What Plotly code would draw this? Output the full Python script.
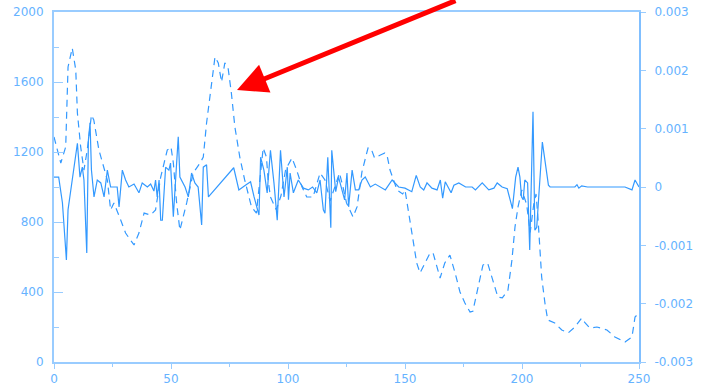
import plotly.graph_objects as go

# Solid series (right axis)
solid_x = [0, 0.5, 2, 3.6, 5.3, 6, 7.8, 10, 11.1, 12.1, 12.8, 14, 14.7, 15.4, 16, 17.1, 18.5, 20,
           21.4, 22.8, 24.2, 25.6, 27, 27.8, 29.2, 30.6, 32, 34.2, 36.3, 37.7, 39.9, 41.3, 42.7,
           43.4, 44.1, 44.9, 45.6, 46.3, 47.7, 49.1, 49.8, 51, 53.1, 53.8, 56, 57.4, 58.8, 60.2,
           61.6, 63.1, 63.8, 65.2, 66, 76.8, 79, 81.8, 84, 85.5, 87.6, 88.3, 89.7, 91.1, 92.5,
           94, 95.4, 96.8, 98.3, 99.7, 100.2, 100.9, 102.3, 104.4, 106.6, 108.7, 110.5, 112.3,
           113.7, 115.1, 115.8, 117, 117.7, 118.3, 118.7, 119.4, 120.4, 121.6, 123, 124.2, 125.2,
           125.9, 127.4, 128.8, 130.2, 131.6, 133, 135.2, 137.3, 139.5, 141.6, 144.5, 147.3, 150,
           152.9, 154.8, 156.5, 158, 159.4, 161.5, 163.7, 165.1, 166.1, 167.2, 168.7, 169.7,
           170.9, 173, 175.9, 178.7, 180.1, 183, 185.8, 188, 189.4, 191.5, 193.7, 195.9, 197.3,
           198.3, 199.1, 199.8, 200.5, 201.2, 202.4, 203.3, 203.8, 204.7, 205.5, 206.3, 208.7,
           209.8, 211.3, 212, 222.6, 223.5, 224.3, 225.5, 228, 244, 247, 248.3, 250]
solid_y = [0.00017, 0.00017, 0.00017, -0.00027, -0.00125, -0.00039, 0.00012, 0.00075, 0.00017,
           0.00034, 0.00012, -0.00113, 0.0008, 0.0011, 0.00029, -0.00017, 0.00012, 0.00007,
           -0.00017, 0.00029, 0.0, 0.0, 0.0, -0.00034, 0.00029, 0.00012, 0.0, 0.00005, -0.0001,
           0.00007, 0.0, 0.00005, -0.00007, 0.00012, -0.00017, 0.00012, -0.00057, -0.00057,
           0.00034, 0.00029, 0.00041, -0.00051, 0.00086, 0.00017, 0.0, -0.00017, 0.00024,
           0.00007, 0.0, -0.00065, 0.00034, 0.00038, -0.00017, 0.00033, -0.00005, 0.00003,
           0.00009, -0.00017, -0.00048, 0.00051, 0.00029, -0.0001, 0.00063, 0.00007, -0.00057,
           0.00063, -0.00017, 0.00034, -0.00022, 0.00024, -0.0001, 0.00012, -0.00002, -0.00005,
           0.0, -0.0001, 0.00012, -0.00039, -0.00045, 0.00051, -0.00022, -0.0007, 0.00063,
           0.00034, -0.00008, 0.00017, -0.00005, -0.00022, 0.00024, -0.00034, 0.00029, -0.00005,
           -0.00005, 0.00012, 0.00017, 0.0, 0.00005, 0.0, -0.00005, 0.00012, 0.0, -0.00002,
           -0.00008, 0.0002, 0.0, -0.00005, 0.00007, -0.00002, -0.00005, 0.00012, -0.00019,
           0.00009, -0.00002, -0.0001, 0.00003, 0.00007, 0.0, 0.0, -0.00005, 0.00007, -0.00005,
           -0.00002, 0.00007, 0.0, -0.00003, -0.00037, 0.00017, 0.00034, 0.00017, -0.00017,
           -0.00022, 0.00012, 0.00007, -0.00108, -0.00022, 0.00129, -0.00074, -0.00069, 0.00077,
           0.00046, 0.00003, 0.0, 0.0, 0.00004, -0.00002, 0.00002, 0.0, 0.0, -0.00005, 0.00012,
           0.0]

# Dashed series (left axis)
dash_x = [0, 1.5, 2.9, 5, 6, 7.8, 9.3, 10, 11.4, 12.8, 14.2, 16, 17, 19.2, 21.4, 22.8, 24.2,
          25.6, 28.5, 30.6, 32.5, 34.2, 36.3, 38.5, 41.3, 43.4, 45.6, 48.4, 50, 51, 52.4, 53.8,
          56.7, 59.5, 62.4, 63.8, 65.2, 67.4, 68.8, 70.2, 71.6, 73, 74.4, 75.8, 77.3, 79.4,
          81.5, 84.4, 86.5, 89.4, 90.8, 91.5, 92.5, 95, 97, 99, 101.7, 103.7, 106, 108, 110.7,
          113.7, 115.8, 118, 120, 122, 123.5, 125, 127.8, 129.5, 131.6, 134.2, 135.5, 137,
          139.5, 141.4, 142.3, 143.6, 146.6, 149, 150, 151.4, 153.5, 155, 156.4, 158.5, 160.7,
          162, 164.2, 165, 167, 169.2, 171.4, 173.5, 175.6, 177.8, 179, 181.2, 183.3, 185.3,
          187.6, 189.7, 191.6, 194, 195.7, 197, 198.3, 199.9, 202, 203.5, 205, 206, 206.8,
          207.7, 208.4, 209.8, 211, 214, 217, 219.7, 222.6, 225.5, 227, 229, 232, 236.3, 239.7,
          244, 247, 248.3, 250]
dash_y = [1286, 1200, 1137, 1229, 1686, 1794, 1669, 1423, 1229, 1097, 1211, 1411, 1383, 1211,
          1114, 1040, 869, 909, 811, 737, 700, 669, 737, 851, 840, 869, 1057, 1211, 1229, 1137,
          909, 754, 909, 1080, 1137, 1171, 1366, 1611, 1743, 1709, 1600, 1709, 1680, 1537, 1343,
          1171, 1040, 886, 851, 1223, 1170, 1040, 943, 870, 950, 1100, 1166, 1097, 1000, 943,
          943, 1080, 1040, 920, 1000, 1080, 1000, 909, 829, 886, 1086, 1223, 1220, 1166, 1183,
          1194, 1183, 1097, 983, 960, 983, 869, 697, 566, 509, 566, 623, 623, 526, 480, 566, 611,
          509, 400, 337, 286, 290, 429, 554, 566, 469, 371, 366, 411, 583, 771, 886, 983, 900,
          740, 900, 960, 829, 657, 486, 337, 240, 223, 183, 166, 200, 251, 223, 194, 200, 183,
          143, 114, 143, 257, 280]

line_color = "#3399ff"
axis_color = "#99ccff"
label_color = "#66b3ff"
font_family = "DejaVu Sans"

fig = go.Figure()
fig.add_trace(go.Scatter(x=dash_x, y=dash_y, mode="lines", yaxis="y",
                         line=dict(color=line_color, width=1.2, dash="7px,5px"),
                         showlegend=False, hoverinfo="skip"))
fig.add_trace(go.Scatter(x=solid_x, y=solid_y, mode="lines", yaxis="y2",
                         line=dict(color=line_color, width=1.2),
                         showlegend=False, hoverinfo="skip"))

fig.add_annotation(x=78.2, y=1554, xref="x", yref="y", ax=220, ay=-92,
                   axref="pixel", ayref="pixel", text="", showarrow=True,
                   arrowhead=2, arrowsize=1.2, arrowwidth=5, arrowcolor="#ff0000")

tickfont = dict(family=font_family, size=12, color=label_color)
fig.update_layout(
    width=704, height=387,
    margin=dict(l=54, r=65, t=12, b=25, autoexpand=False),
    paper_bgcolor="white", plot_bgcolor="white",
    xaxis=dict(range=[0, 250], tickvals=[0, 50, 100, 150, 200, 250], ticks="outside",
               ticklen=5, tickcolor=axis_color, showline=True, linecolor=axis_color,
               linewidth=2, mirror=True, showgrid=False, zeroline=False, tickfont=tickfont,
               automargin=False, ticklabelstandoff=0,
               minor=dict(dtick=25, ticks="outside", ticklen=3, tickcolor=axis_color)),
    yaxis=dict(range=[0, 2000], tickvals=[0, 400, 800, 1200, 1600, 2000], ticks="inside",
               ticklen=9, tickcolor=axis_color, showline=True, linecolor=axis_color,
               linewidth=2, showgrid=False, zeroline=False, tickfont=tickfont,
               automargin=False, ticklabelstandoff=6,
               minor=dict(dtick=200, ticks="inside", ticklen=5, tickcolor=axis_color)),
    yaxis2=dict(range=[-0.003, 0.003], overlaying="y", side="right",
                tickvals=[-0.003, -0.002, -0.001, 0, 0.001, 0.002, 0.003],
                ticktext=["-0.003", "-0.002", "-0.001", "0", "0.001", "0.002", "0.003"],
                ticks="outside", ticklen=5, tickcolor=axis_color, showline=True,
                linecolor="#80bfff", linewidth=2, showgrid=False, zeroline=False,
                tickfont=tickfont, automargin=False, ticklabelstandoff=6),
)

# remove the default 8px page margin so the figure fills the window exactly
fig.write_html("out.html", config={"displayModeBar": False},
               post_script="document.body.style.margin='0';")
